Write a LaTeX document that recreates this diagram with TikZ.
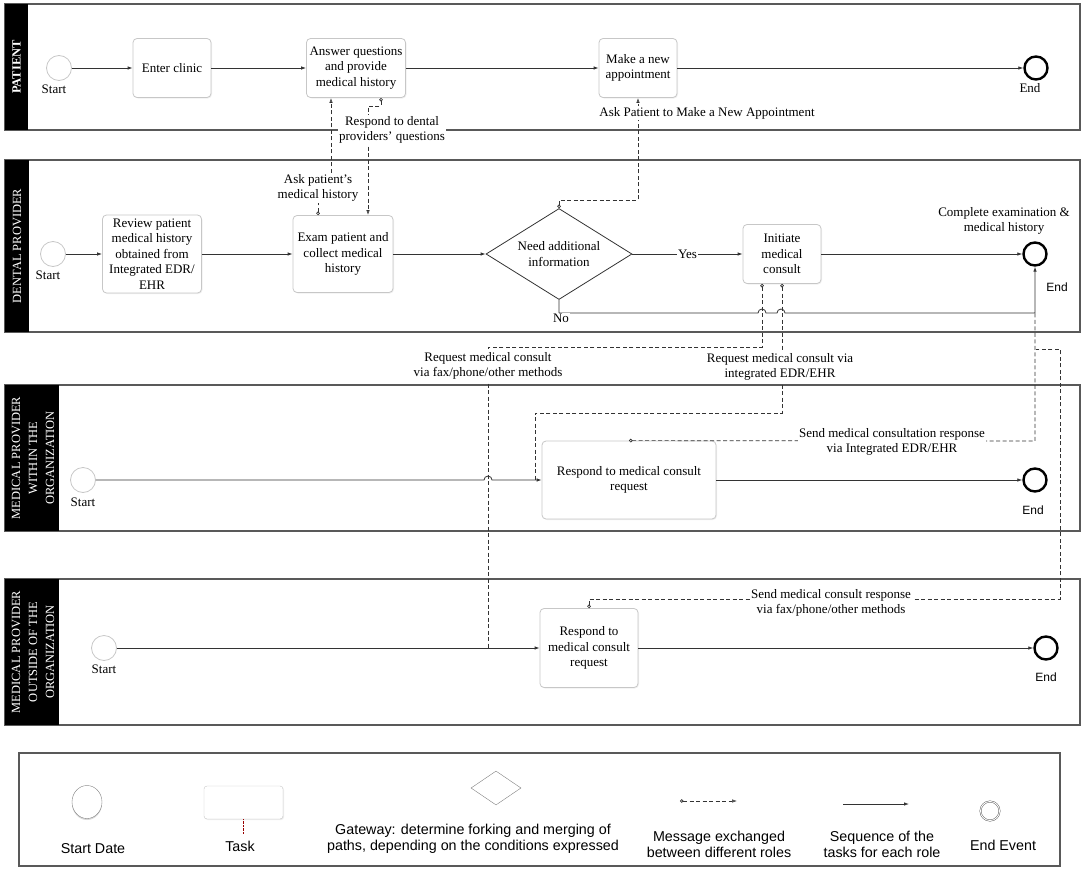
\documentclass[tikz,border=0pt]{standalone}
\usepackage{fontspec}
\setmainfont{Liberation Serif}
\newfontfamily\arialfont{Liberation Sans}
\usetikzlibrary{arrows.meta,shapes.geometric,shadows}
\definecolor{lanegray}{gray}{0.35}
\definecolor{boxgray}{gray}{0.78}
\definecolor{linegray}{gray}{0.2}
\tikzset{
    task/.style={draw=boxgray, fill=white, rounded corners=4pt, align=center, inner sep=1pt, line width=0.8pt,
        drop shadow={opacity=0.12, shadow xshift=1pt, shadow yshift=-1pt}},
    startev/.style={circle, draw=boxgray, fill=white, minimum size=25pt, inner sep=0pt, line width=0.8pt},
    endev/.style={circle, draw=black, line width=2.4pt, minimum size=23pt, inner sep=0pt},
    gate/.style={diamond, draw=linegray, aspect=1.6, align=center, inner sep=0pt, line width=0.8pt},
    lane/.style={draw=lanegray, line width=1.2pt},
    band/.style={fill=black},
    bandtext/.style={text=white, rotate=90, align=center, font=\fontsize{12.5}{17}\selectfont},
    flow/.style={draw=linegray, line width=0.8pt, -{Latex[length=5pt,width=3.5pt]}},
    msgline/.style={draw=linegray, dash pattern=on 4pt off 2.5pt, line width=0.7pt},
    msgtip/.style={{Circle[open,length=3.5pt]}-{Latex[open,length=5pt,width=3.5pt]}},
    msgsrc/.style={{Circle[open,length=3.5pt]}-},
    lbl/.style={fill=white, inner sep=1pt, align=center},
    evlbl/.style={font=\arialfont\fontsize{12}{14}\selectfont},
    legtext/.style={align=center, font=\arialfont\fontsize{14.3}{16}\selectfont}
}
\begin{document}
\begin{tikzpicture}[x=1pt, y=-1pt, font=\fontsize{13}{15.5}\selectfont]
    \useasboundingbox (0,0) rectangle (1084,875);
    % lanes, y grows downwards
    \draw[lane] (5,4) rectangle (1080,130);
    \fill[band] (5,4) rectangle (28,130);
    \node[bandtext] (lpat) at (16.5,67) {\bfseries PATIENT};
    \draw[lane] (5,160) rectangle (1080,332);
    \fill[band] (5,160) rectangle (29,332);
    \node[bandtext] (lden) at (17,246) {DENTAL PROVIDER};
    \draw[lane] (5,385) rectangle (1080,531);
    \fill[band] (5,385) rectangle (59,531);
    \node[bandtext] (lwin) at (33,458) {MEDICAL PROVIDER\\WITHIN THE\\ORGANIZATION};
    \draw[lane] (5,579) rectangle (1080,725);
    \fill[band] (5,579) rectangle (59,725);
    \node[bandtext] (lout) at (33,652) {MEDICAL PROVIDER\\OUTSIDE OF THE\\ORGANIZATION};

    % patient
    \node[startev] (pstart) at (59,68) {};
    \node (pstartlbl) at (54,89) {Start};
    \node[task, minimum width=78pt, minimum height=59pt] (enter) at (172,68) {Enter clinic};
    \node[task, minimum width=99pt, minimum height=59pt] (answer) at (356,68) {Answer questions\\and provide\\medical history};
    \node[task, minimum width=78pt, minimum height=59pt] (appt) at (638,68) {Make a new\\appointment};
    \node[endev] (pend) at (1036,68) {};
    \node (pendlbl) at (1030,88) {End};

    % dental provider
    \node[startev] (dstart) at (53,254) {};
    \node (dstartlbl) at (48,275) {Start};
    \node[task, minimum width=99pt, minimum height=78pt] (review) at (152,254) {Review patient\\medical history\\obtained from\\Integrated EDR/\\EHR};
    \node[task, minimum width=100pt, minimum height=77pt] (exam) at (343,254) {Exam patient and\\collect medical\\history};
    \node[gate, minimum width=146pt, minimum height=91pt] (gw) at (559,254) {Need additional\\information};
    \node[task, minimum width=78pt, minimum height=59pt] (init) at (782,254) {Initiate\\medical\\consult};
    \node[endev] (dend) at (1035,254) {};
    \node[align=center] (dendtxt) at (1004,221) {Complete examination \&\\medical history};
    \node[evlbl] (dendlbl) at (1057,287) {End};

    % provider within
    \node[startev] (wstart) at (83,480) {};
    \node (wstartlbl) at (83,502) {Start};
    \node[task, minimum width=174pt, minimum height=78pt] (wresp) at (629,480) {Respond to medical consult\\request};
    \node[endev] (wend) at (1035,480) {};
    \node[evlbl] (wendlbl) at (1033,510) {End};

    % provider outside
    \node[startev] (ostart) at (104,648) {};
    \node (ostartlbl) at (104,669) {Start};
    \node[task, minimum width=98pt, minimum height=79pt] (oresp) at (589,648) {Respond to\\medical consult\\request};
    \node[endev] (oend) at (1046,648) {};
    \node[evlbl] (oendlbl) at (1046,677) {End};

    % sequence flows
    \draw[flow] (pstart) -- (enter);
    \draw[flow] (enter) -- (answer);
    \draw[flow] (answer) -- (appt);
    \draw[flow] (appt) -- (pend);
    \draw[flow] (dstart) -- (review);
    \draw[flow] (review) -- (exam);
    \draw[flow] (exam) -- (gw);
    \draw[flow] (gw) -- node[lbl] (yes) {Yes} (init);
    \draw[flow] (init) -- (dend);
    \draw[flow] (gw.south) |- (758,313) arc[start angle=180, end angle=0, radius=4pt]
        -- (777,313) arc[start angle=180, end angle=0, radius=4pt] -| (dend);
    \node[lbl] (no) at (561,318) {No};
    \draw[flow] (wstart) -- (484,480) arc[start angle=180, end angle=0, radius=4pt] -- (wresp);
    \draw[flow] (wresp) -- (wend);
    \draw[flow] (ostart) -- (oresp);
    \draw[flow] (oresp) -- (oend);

    % messages
    \draw[msgline, msgtip] ([xshift=-25pt]exam.north) -- ++(0,-28) -| ([xshift=-25pt]answer.south);
    \draw[msgline, msgtip] ([xshift=25pt]answer.south) -- ++(0,8) -| ([xshift=25pt]exam.north);
    \draw[msgline, msgtip] (gw.north) -- ++(0,-8) -| (appt.south);
    \draw[msgline, msgsrc] ([xshift=-20pt]init.south) |- (488,347) -- (488,648);
    \draw[msgline, msgsrc] (init.south) |- (535,413) -- (535,480);
    \draw[msgline, msgsrc] (wresp.north) -- (1035,441) -- (1035,313);
    \draw[msgline, msgsrc] (oresp.north) -- (589,599) -| (1060,349) -- (1036,349);
    \node[lbl] (askhist) at (318,188) {Ask patient’s\\medical history};
    \node[lbl] (respq) at (392,130) {Respond to dental\\providers’ questions};
    \node[lbl] (askappt) at (707,113) {Ask Patient to Make a New Appointment};
    \node[lbl] (reqfax) at (488,366) {Request medical consult\\via fax/phone/other methods};
    \node[lbl] (reqedr) at (780,367) {Request medical consult via\\integrated EDR/EHR};
    \node[lbl] (sendedr) at (892,442) {Send medical consultation response\\via Integrated EDR/EHR};
    \node[lbl] (sendfax) at (831,603) {Send medical consult response\\via fax/phone/other methods};

    % legend
    \draw[lanegray, line width=1.2pt] (19,753) rectangle (1060,866);
    \node[ellipse, draw=gray, fill=white, minimum width=30pt, minimum height=33pt,
        drop shadow={opacity=0.3, shadow xshift=0pt, shadow yshift=-1.5pt}] (lstart) at (87,802) {};
    \node[legtext] (lstartlbl) at (93,849) {Start Date};
    \node[draw=boxgray, fill=white, rounded corners=3pt, minimum width=79pt, minimum height=33pt,
        drop shadow={opacity=0.15, shadow xshift=1pt, shadow yshift=-1pt}] (ltask) at (243.5,802.5) {};
    \draw[red!60!black, densely dotted] (ltask.south) -- ++(0,15);
    \node[legtext] (ltasklbl) at (240,846) {Task};
    \node[diamond, draw=gray, minimum width=50pt, minimum height=34pt, inner sep=0pt] (lgate) at (496,788) {};
    \node[legtext] (lgatelbl) at (473,839) {Gateway: determine forking and merging of\\paths, depending on the conditions expressed};
    \coordinate (lmsga) at (680,801);
    \coordinate (lmsgb) at (737,801);
    \draw[msgline, msgtip] (lmsga) -- (lmsgb);
    \node[legtext] (lmsglbl) at (719,844) {Message exchanged\\between different roles};
    \coordinate (lseqa) at (843,804);
    \coordinate (lseqb) at (909,804);
    \draw[flow] (lseqa) -- (lseqb);
    \node[legtext] (lseqlbl) at (882,844) {Sequence of the\\tasks for each role};
    \node[circle, draw=black!70, double=white, double distance=1pt, fill=white, minimum size=19pt, inner sep=0pt,
        drop shadow={opacity=0.3, shadow xshift=0pt, shadow yshift=-1pt}] (lend) at (990,811) {};
    \node[legtext] (lendlbl) at (1003,845) {End Event};
\end{tikzpicture}
\end{document}
